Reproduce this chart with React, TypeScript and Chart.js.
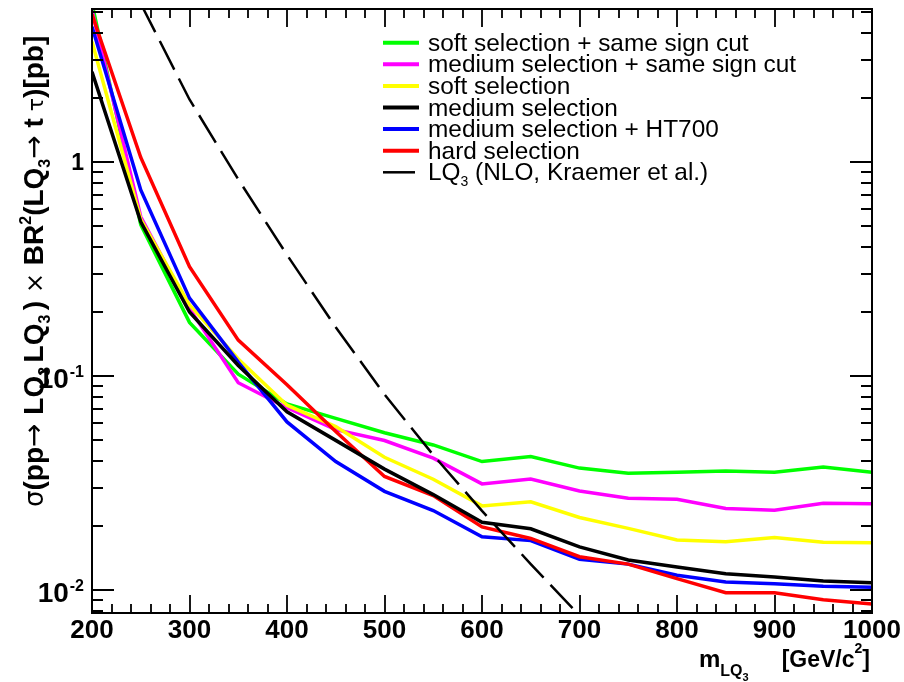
import React, { useEffect, useRef } from 'react';
import { Chart, registerables } from 'chart.js';

Chart.register(...registerables);

// ---- data ----
const massPoints = [200, 250, 300, 350, 400, 450, 500, 550, 600, 650, 700, 750, 800, 850, 900, 950, 1000];
const softSameSign = [5.5, 0.51, 0.178, 0.102, 0.074, 0.0634, 0.0543, 0.0476, 0.0398, 0.042, 0.0371, 0.0351, 0.0355, 0.036, 0.0355, 0.0375, 0.0355];
const mediumSameSign = [5.1, 0.555, 0.207, 0.093, 0.071, 0.0561, 0.0499, 0.0413, 0.0313, 0.033, 0.029, 0.0268, 0.0265, 0.024, 0.0236, 0.0254, 0.0253];
const softSel = [3.65, 0.54, 0.215, 0.12, 0.073, 0.058, 0.0417, 0.0329, 0.0247, 0.0258, 0.0218, 0.0194, 0.0171, 0.0168, 0.0176, 0.0167, 0.0166];
const mediumSel = [2.64, 0.526, 0.199, 0.112, 0.068, 0.05, 0.0367, 0.0279, 0.0207, 0.0193, 0.0159, 0.0138, 0.0128, 0.0119, 0.0115, 0.011, 0.0108];
const mediumHT700 = [4.29, 0.74, 0.231, 0.116, 0.061, 0.0398, 0.0289, 0.0235, 0.0177, 0.017, 0.0139, 0.0132, 0.0117, 0.0109, 0.0107, 0.0104, 0.0103];
const hardSel = [4.9, 1.05, 0.324, 0.147, 0.091, 0.055, 0.0339, 0.0276, 0.0197, 0.0174, 0.0143, 0.0132, 0.0113, 0.0097, 0.0097, 0.009, 0.0086];
const theoryMass = [250, 300, 350, 400, 450, 500, 550, 600, 650, 700];
const theoryXsec = [5.5, 1.96, 0.83, 0.368, 0.169, 0.082, 0.0427, 0.0234, 0.0132, 0.0076];

const xTickValues = [200, 300, 400, 500, 600, 700, 800, 900, 1000];
const xTickLabels = ['200', '300', '400', '500', '600', '700', '800', '900', '1000'];
const yTickValues = [0.01, 0.1, 1];
const yTickBases = ['10', '10', '1'];
const yTickExps = ['-2', '-1', ''];

const legendLabels = [
  'soft selection + same sign cut',
  'medium selection + same sign cut',
  'soft selection',
  'medium selection',
  'medium selection + HT700',
  'hard selection',
];
const legendColors = ['#00ff00', '#ff00ff', '#ffff00', '#000000', '#0000ff', '#ff0000'];

const FAM = '"Liberation Sans", Arial, Helvetica, sans-serif';
const SYM = '"DejaVu Sans", "Liberation Sans", sans-serif';

type Piece = { t: string; size: number; bold?: boolean; dy?: number; sym?: boolean };

function font(p: Piece) {
  return `${p.bold ? 'bold ' : ''}${p.size}px ${p.sym ? SYM : FAM}`;
}
function measurePieces(ctx: CanvasRenderingContext2D, pieces: Piece[]) {
  let w = 0;
  for (const p of pieces) {
    ctx.font = font(p);
    w += ctx.measureText(p.t).width;
  }
  return w;
}
function drawPieces(ctx: CanvasRenderingContext2D, pieces: Piece[], x: number, y: number) {
  let cx = x;
  ctx.textAlign = 'left';
  ctx.textBaseline = 'alphabetic';
  for (const p of pieces) {
    ctx.font = font(p);
    ctx.fillText(p.t, cx, y + (p.dy || 0));
    cx += ctx.measureText(p.t).width;
  }
  return cx;
}

const rootFrame = {
  id: 'rootFrame',
  afterDraw(chart: any) {
    const { ctx, chartArea: a, scales } = chart;
    const xs = scales.x;
    const ys = scales.y;
    ctx.save();
    ctx.strokeStyle = '#000';
    ctx.fillStyle = '#000';

    // ticks
    ctx.lineWidth = 1.8;
    ctx.beginPath();
    for (let v = xs.min; v <= xs.max + 1e-6; v += 20) {
      const px = Math.round(xs.getPixelForValue(v));
      const len = Math.abs(v % 100) < 1e-6 ? 18 : 9;
      ctx.moveTo(px, a.bottom);
      ctx.lineTo(px, a.bottom - len);
      ctx.moveTo(px, a.top);
      ctx.lineTo(px, a.top + len);
    }
    for (let d = -3; d <= 1; d++) {
      for (let k = 1; k <= 9; k++) {
        const v = k * Math.pow(10, d);
        if (v < ys.min || v > ys.max) continue;
        const py = Math.round(ys.getPixelForValue(v));
        const len = k === 1 ? 22 : 11;
        ctx.moveTo(a.left, py);
        ctx.lineTo(a.left + len, py);
        ctx.moveTo(a.right, py);
        ctx.lineTo(a.right - len, py);
      }
    }
    ctx.stroke();

    // frame
    ctx.lineWidth = 2;
    ctx.strokeRect(a.left, a.top, a.right - a.left, a.bottom - a.top);

    // x tick labels
    ctx.font = `bold 26px ${FAM}`;
    ctx.textAlign = 'center';
    ctx.textBaseline = 'alphabetic';
    xTickValues.forEach((v, i) => {
      ctx.fillText(xTickLabels[i], xs.getPixelForValue(v), 638);
    });

    // y tick labels
    yTickValues.forEach((v, i) => {
      const py = ys.getPixelForValue(v);
      const right = a.left - 8;
      ctx.textAlign = 'right';
      if (yTickExps[i]) {
        ctx.font = `bold 16px ${FAM}`;
        const sw = ctx.measureText(yTickExps[i]).width;
        ctx.fillText(yTickExps[i], right, py + 1);
        ctx.font = `bold 28px ${FAM}`;
        ctx.fillText(yTickBases[i], right - sw - 1, py + 12);
      } else {
        ctx.font = `bold 23px ${FAM}`;
        ctx.fillText(yTickBases[i], right, py + 8);
      }
    });

    // x title
    drawPieces(ctx, [
      { t: 'm', size: 24, bold: true },
      { t: 'LQ', size: 16, bold: true, dy: 9 },
      { t: '3', size: 11, bold: true, dy: 14 },
    ], 699, 667);
    const rightPieces: Piece[] = [
      { t: '[GeV/c', size: 23, bold: true },
      { t: '2', size: 14, bold: true, dy: -14 },
      { t: ']', size: 23, bold: true },
    ];
    const rw = measurePieces(ctx, rightPieces);
    drawPieces(ctx, rightPieces, 870 - rw, 667);

    // y title (rotated)
    const F = 28;
    const S = 16;
    const yPieces: Piece[] = [
      { t: 'σ', size: F - 2, sym: true },
      { t: '(pp', size: F, bold: true },
      { t: '→ ', size: F, sym: true },
      { t: 'LQ', size: F, bold: true },
      { t: '3 ', size: S, bold: true, dy: 7 },
      { t: 'LQ', size: F, bold: true },
      { t: '3 ', size: S, bold: true, dy: 7 },
      { t: ') ', size: F, bold: true },
      { t: '×', size: F - 4, sym: true },
      { t: ' BR', size: F, bold: true },
      { t: '2', size: S, bold: true, dy: -12 },
      { t: '(LQ', size: F, bold: true },
      { t: '3', size: S, bold: true, dy: 7 },
      { t: '→', size: F, sym: true },
      { t: ' t', size: F, bold: true },
      { t: ' τ', size: F - 6, sym: true },
      { t: ')[pb]', size: F, bold: true },
    ];
    ctx.save();
    ctx.translate(43, 507);
    ctx.rotate(-Math.PI / 2);
    drawPieces(ctx, yPieces, 0, 0);
    ctx.restore();

    // legend
    const lx0 = 383;
    const lx1 = 419;
    const tx = 428;
    for (let i = 0; i < 7; i++) {
      const ly = 42.7 + i * 21.6;
      ctx.beginPath();
      if (i < 6) {
        ctx.strokeStyle = legendColors[i];
        ctx.lineWidth = 4;
        ctx.setLineDash([]);
        ctx.moveTo(lx0, ly);
        ctx.lineTo(lx1, ly);
      } else {
        ctx.strokeStyle = '#000';
        ctx.lineWidth = 2.5;
        ctx.setLineDash([32, 10]);
        ctx.moveTo(lx0, ly);
        ctx.lineTo(lx1 - 2, ly);
      }
      ctx.stroke();
      ctx.setLineDash([]);
      ctx.fillStyle = '#000';
      if (i < 6) {
        drawPieces(ctx, [{ t: legendLabels[i], size: 24.4 }], tx, ly + 8);
      } else {
        drawPieces(ctx, [
          { t: 'LQ', size: 24.4 },
          { t: '3', size: 14, dy: 6 },
          { t: ' (NLO, Kraemer et al.)', size: 24.4 },
        ], tx, ly + 8);
      }
    }
    ctx.restore();
  },
};

function series(label: string, values: number[], color: string) {
  return {
    label,
    data: massPoints.map((m, i) => ({ x: m, y: values[i] })),
    borderColor: color,
    borderWidth: 3.5,
    pointRadius: 0,
    fill: false,
    tension: 0,
    clip: 0,
  };
}

export default function App() {
  const ref = useRef<HTMLCanvasElement>(null);
  useEffect(() => {
    document.body.style.margin = '0';
    const canvas = ref.current!;
    const chart = new Chart(canvas, {
      type: 'line',
      data: {
        datasets: [
          {
            label: 'LQ3 (NLO, Kraemer et al.)',
            data: theoryMass.map((m, i) => ({ x: m, y: theoryXsec[i] })),
            borderColor: '#000000',
            borderWidth: 2.5,
            borderDash: [32, 10],
            pointRadius: 0,
            fill: false,
            tension: 0,
            clip: 0,
          } as any,
          series('medium selection', mediumSel, '#000000'),
          series('hard selection', hardSel, '#ff0000'),
          series('medium selection + HT700', mediumHT700, '#0000ff'),
          series('soft selection', softSel, '#ffff00'),
          series('medium selection + same sign cut', mediumSameSign, '#ff00ff'),
          series('soft selection + same sign cut', softSameSign, '#00ff00'),
        ],
      },
      options: {
        responsive: false,
        animation: false,
        devicePixelRatio: 1,
        layout: { padding: { left: 92, right: 32, top: 9, bottom: 69 } },
        plugins: { legend: { display: false }, tooltip: { enabled: false } },
        scales: {
          x: { type: 'linear', min: 200, max: 1000, display: false },
          y: { type: 'logarithmic', min: 0.0078, max: 5.19, display: false },
        },
        elements: { point: { radius: 0 } },
      } as any,
      plugins: [rootFrame],
    });
    return () => chart.destroy();
  }, []);
  return (
    <div style={{ position: 'relative', width: 904, height: 682 }}>
      <canvas ref={ref} width={904} height={682} style={{ display: 'block' }} />
    </div>
  );
}
